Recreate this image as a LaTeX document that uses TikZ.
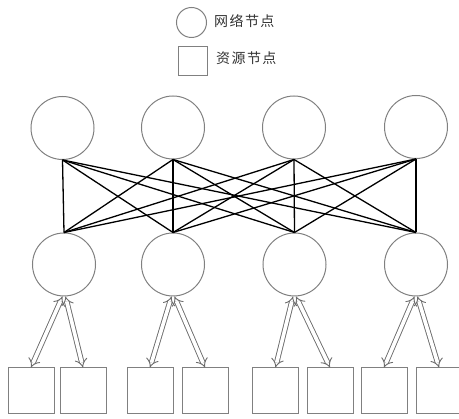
\documentclass[tikz,border=0pt]{standalone}
\usepackage{fontspec}
\newfontfamily\cjk{Noto Sans CJK SC}
\usetikzlibrary{arrows.meta}
\begin{document}
\begin{tikzpicture}[x=1pt,y=-1pt,
  netnode/.style={circle,draw=gray,line width=1pt,minimum size=63pt,inner sep=0pt},
  resnode/.style={rectangle,draw=gray,line width=1pt,minimum size=46pt,inner sep=0pt},
  legcirc/.style={circle,draw=gray,line width=1pt,minimum size=30pt,inner sep=0pt},
  legsq/.style={rectangle,draw=gray,line width=1pt,minimum size=29pt,inner sep=0pt},
  legtext/.style={anchor=west,inner sep=0pt,text=black!80,font=\cjk\fontsize{14}{16}\selectfont\addfontfeature{LetterSpace=10}},
  link/.style={line width=1.3pt,black},
  dbl/.style={draw=gray!85!black,line width=0.9pt,double=white,double distance=3.6pt,{Implies[scale=1.2]}-{Implies[scale=1.2]}}
]
\useasboundingbox (0,0) rectangle (459,419);
% legend
\node[legcirc] (lc) at (191.5,22.5) {};
\node[legtext] (lt1) at (214,21.5) {网络节点};
\node[legsq] (ls) at (192.5,61.5) {};
\node[legtext] (lt2) at (216,58.5) {资源节点};
% top network nodes
\node[netnode] (t1) at (62.5,128) {};
\node[netnode] (t2) at (173,127.5) {};
\node[netnode] (t3) at (294,127.5) {};
\node[netnode] (t4) at (416,127) {};
% bottom network nodes
\node[netnode] (b1) at (64,264.5) {};
\node[netnode] (b2) at (173,264.5) {};
\node[netnode] (b3) at (294.5,264.5) {};
\node[netnode] (b4) at (416,264.5) {};
% resource nodes
\node[resnode] (r1) at (31,391) {};
\node[resnode] (r2) at (83,391) {};
\node[resnode] (r3) at (150,391) {};
\node[resnode] (r4) at (205,391) {};
\node[resnode] (r5) at (275.5,391) {};
\node[resnode] (r6) at (330,391) {};
\node[resnode] (r7) at (384,391) {};
\node[resnode] (r8) at (439,391) {};
% full bipartite links
\foreach \i in {1,2,3,4}{
  \foreach \j in {1,2,3,4}{
    \draw[link] (t\i.south) -- (b\j.north);
  }
}
% double arrows
\draw[dbl] ([xshift=-1.5pt]b1.south) -- (r1.north);
\draw[dbl] ([xshift=1.5pt]b1.south) -- (r2.north);
\draw[dbl] ([xshift=-1.5pt]b2.south) -- (r3.north);
\draw[dbl] ([xshift=1.5pt]b2.south) -- (r4.north);
\draw[dbl] ([xshift=-1.5pt]b3.south) -- (r5.north);
\draw[dbl] ([xshift=1.5pt]b3.south) -- (r6.north);
\draw[dbl] ([xshift=-1.5pt]b4.south) -- (r7.north);
\draw[dbl] ([xshift=1.5pt]b4.south) -- (r8.north);
\end{tikzpicture}
\end{document}
